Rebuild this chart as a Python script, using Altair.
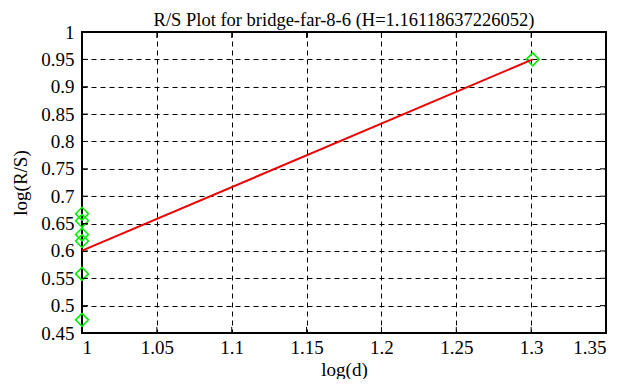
import altair as alt
import pandas as pd

# data
log_d = [1.0, 1.0, 1.0, 1.0, 1.0, 1.0, 1.30103]
log_rs = [0.668, 0.655, 0.630, 0.618, 0.558, 0.474, 0.950]
x_ticks = [1.0, 1.05, 1.1, 1.15, 1.2, 1.25, 1.3, 1.35]
y_ticks = [0.45, 0.5, 0.55, 0.6, 0.65, 0.7, 0.75, 0.8, 0.85, 0.9, 0.95, 1.0]

df = pd.DataFrame({"log_d": log_d, "log_rs": log_rs})
xt = pd.DataFrame({"log_d": x_ticks})
yt = pd.DataFrame({"log_rs": y_ticks})

W, H = 524, 301
FONT = "Liberation Serif"
FS = 19

xs = alt.Scale(domain=[1.0, 1.35], nice=False, zero=False)
ys = alt.Scale(domain=[0.45, 1.0], nice=False, zero=False)

axis_common = dict(
    grid=True, gridDash=[5, 4], gridColor="black", gridOpacity=1, gridWidth=1,
    domain=False, ticks=False, labelFont=FONT, labelFontSize=FS, labelColor="black",
    titleFont=FONT, titleFontSize=FS, titleFontWeight="normal", titleColor="black",
)
xaxis = alt.Axis(values=x_ticks, labelPadding=5, titlePadding=3,
                 labelExpr="format(datum.value, '~g')", **axis_common)
yaxis = alt.Axis(values=y_ticks, labelPadding=8, titlePadding=10,
                 labelExpr="format(datum.value, '~g')", **axis_common)

X = lambda: alt.X("log_d:Q", scale=xs, title="log(d)", axis=xaxis)
Y = lambda: alt.Y("log_rs:Q", scale=ys, title="log(R/S)", axis=yaxis)

points = alt.Chart(df).mark_point(
    shape="diamond", size=165, filled=False, color="#00ee00", strokeWidth=1.6, opacity=1
).encode(x=X(), y=Y())

line = alt.Chart(df).transform_regression(
    "log_d", "log_rs", extent=[1.0, 1.30103]
).mark_line(color="#ee0000", strokeWidth=2).encode(x=X(), y=Y())

tick_len = 6
xtop = alt.Chart(xt).mark_rule(color="black", strokeWidth=1).encode(
    x=X(), y=alt.value(0), y2=alt.value(tick_len))
xbot = alt.Chart(xt).mark_rule(color="black", strokeWidth=1).encode(
    x=X(), y=alt.value(H - tick_len), y2=alt.value(H))
yleft = alt.Chart(yt).mark_rule(color="black", strokeWidth=1).encode(
    y=Y(), x=alt.value(0), x2=alt.value(tick_len))
yright = alt.Chart(yt).mark_rule(color="black", strokeWidth=1).encode(
    y=Y(), x=alt.value(W - tick_len), x2=alt.value(W))

chart = alt.layer(points, xtop, xbot, yleft, yright, line).properties(
    width=W, height=H,
    title=alt.Title("R/S Plot for bridge-far-8-6 (H=1.16118637226052)",
                    font=FONT, fontSize=18.5, fontWeight="normal", color="black", offset=-6),
    autosize=alt.AutoSizeParams(type="none"),
    padding={"left": 74, "top": 24, "right": 17, "bottom": 46},
).configure(
    background="white", font=FONT
).configure_axis(
    labelFont=FONT, titleFont=FONT
).configure_view(
    stroke="black", strokeWidth=2
)

chart.save("out.html", embed_options={"renderer": "svg", "actions": False})
